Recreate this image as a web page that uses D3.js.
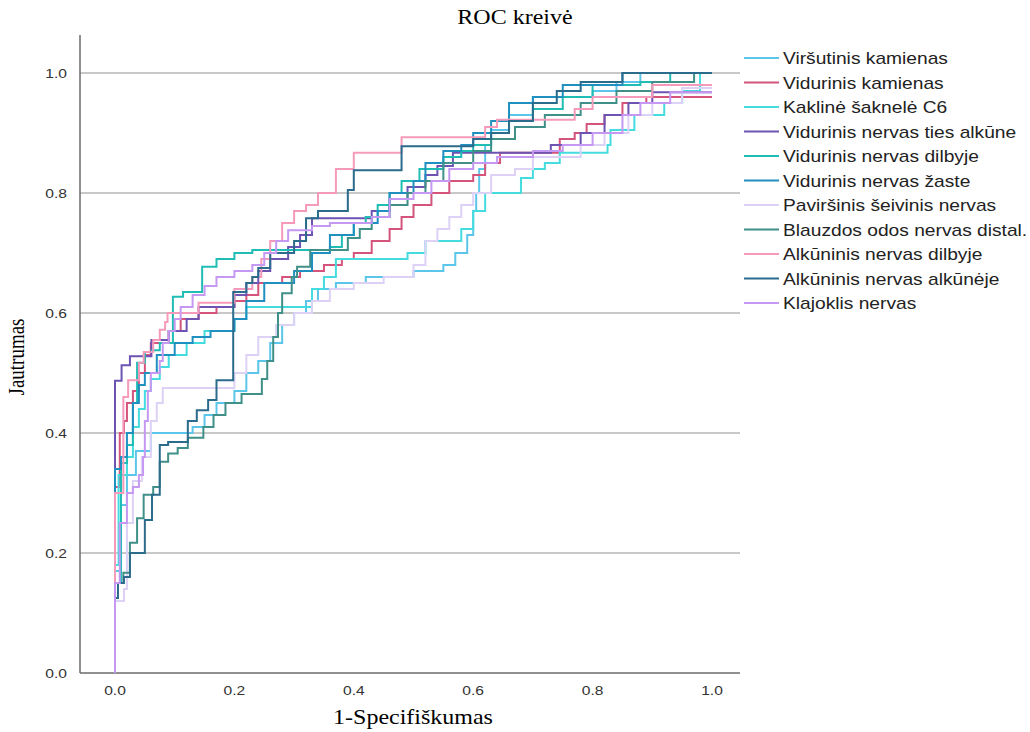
<!DOCTYPE html>
<html>
<head>
<meta charset="utf-8">
<script src="https://cdn.jsdelivr.net/npm/d3@7"></script>
<style>
  html, body { margin: 0; padding: 0; background: #fff; }
  svg { display: block; }
</style>
</head>
<body>
<svg id="chart" width="1030" height="732"></svg>
<script>
// ROC curves: each series is a staircase of [1-specificity, sensitivity] corner points
const seriesNames = [
  "Viršutinis kamienas",
  "Vidurinis kamienas",
  "Kaklinė šaknelė C6",
  "Vidurinis nervas ties alkūne",
  "Vidurinis nervas dilbyje",
  "Vidurinis nervas žaste",
  "Paviršinis šeivinis nervas",
  "Blauzdos odos nervas distal.",
  "Alkūninis nervas dilbyje",
  "Alkūninis nervas alkūnėje",
  "Klajoklis nervas"
];

const seriesColors = [
  "#5cc6ea", "#d4547c", "#45dcdf", "#6d53b2", "#1fbdb4", "#2090c0",
  "#ddd2f6", "#3f9088", "#f59aba", "#2b6b8c", "#c598f2"
];

const virsutinis = [[0,0],[0,0.17],[0.01,0.28],[0.02,0.33],[0.035,0.37],[0.06,0.40],[0.13,0.41],[0.15,0.43],[0.17,0.45],[0.2,0.47],[0.22,0.5],[0.24,0.52],[0.26,0.55],[0.28,0.58],[0.3,0.6],[0.32,0.62],[0.34,0.64],[0.37,0.65],[0.42,0.66],[0.5,0.67],[0.55,0.68],[0.57,0.7],[0.59,0.73],[0.6,0.77],[0.605,0.8],[0.61,0.84],[0.62,0.88],[0.63,0.905],[0.66,0.93],[0.7,0.96],[0.8,0.97],[0.84,0.985],[0.88,1.0],[1,1]];

const vidKamienas = [[0,0],[0,0.31],[0.008,0.40],[0.015,0.42],[0.02,0.45],[0.03,0.47],[0.04,0.5],[0.05,0.53],[0.06,0.55],[0.09,0.57],[0.11,0.59],[0.14,0.6],[0.17,0.61],[0.2,0.62],[0.22,0.63],[0.24,0.65],[0.28,0.66],[0.31,0.67],[0.35,0.68],[0.38,0.69],[0.4,0.7],[0.43,0.72],[0.46,0.74],[0.48,0.76],[0.5,0.78],[0.53,0.8],[0.56,0.82],[0.6,0.83],[0.62,0.85],[0.645,0.867],[0.745,0.89],[0.77,0.9],[0.79,0.915],[0.82,0.93],[0.85,0.95],[0.89,0.96],[1,0.96]];

const kaklineC6 = [[0,0],[0,0.18],[0.006,0.33],[0.02,0.36],[0.03,0.41],[0.04,0.44],[0.05,0.47],[0.06,0.49],[0.075,0.51],[0.09,0.53],[0.12,0.55],[0.15,0.57],[0.2,0.59],[0.22,0.61],[0.33,0.64],[0.35,0.66],[0.37,0.69],[0.49,0.70],[0.52,0.72],[0.58,0.74],[0.6,0.77],[0.62,0.80],[0.68,0.825],[0.7,0.84],[0.72,0.85],[0.745,0.867],[0.825,0.88],[0.83,0.905],[0.87,0.93],[0.92,0.95],[0.95,0.97],[0.98,1.0],[1,1]];

const tiesAlkune = [[0,0],[0,0.487],[0.011,0.513],[0.025,0.528],[0.061,0.555],[0.09,0.57],[0.12,0.59],[0.14,0.61],[0.2,0.63],[0.22,0.65],[0.24,0.67],[0.26,0.69],[0.29,0.71],[0.31,0.73],[0.33,0.758],[0.43,0.77],[0.46,0.79],[0.49,0.81],[0.52,0.83],[0.54,0.845],[0.566,0.867],[0.73,0.88],[0.78,0.9],[0.82,0.93],[0.86,0.95],[0.9,0.968],[1,0.968]];

const vidDilbyje = [[0,0],[0,0.15],[0.01,0.35],[0.02,0.38],[0.03,0.45],[0.037,0.517],[0.05,0.535],[0.062,0.538],[0.075,0.55],[0.097,0.627],[0.114,0.635],[0.146,0.677],[0.17,0.69],[0.2,0.70],[0.23,0.705],[0.36,0.71],[0.38,0.73],[0.4,0.75],[0.42,0.76],[0.44,0.78],[0.46,0.8],[0.48,0.82],[0.51,0.84],[0.55,0.86],[0.58,0.87],[0.6,0.88],[0.63,0.9],[0.66,0.92],[0.7,0.94],[0.75,0.96],[0.8,0.98],[0.88,0.985],[0.93,1.0],[1,1]];

const vidZaste = [[0,0],[0,0.34],[0.01,0.36],[0.02,0.40],[0.03,0.45],[0.04,0.48],[0.05,0.5],[0.07,0.53],[0.1,0.55],[0.13,0.56],[0.16,0.57],[0.2,0.59],[0.22,0.62],[0.25,0.65],[0.3,0.67],[0.33,0.7],[0.36,0.73],[0.4,0.75],[0.44,0.77],[0.46,0.8],[0.5,0.82],[0.52,0.85],[0.55,0.87],[0.58,0.88],[0.6,0.9],[0.63,0.92],[0.66,0.95],[0.7,0.96],[0.75,0.98],[0.85,1.0],[1,1]];

const pavirsinis = [[0,0],[0,0.12],[0.015,0.14],[0.02,0.25],[0.03,0.32],[0.045,0.36],[0.06,0.42],[0.07,0.45],[0.08,0.475],[0.2,0.5],[0.22,0.53],[0.24,0.56],[0.27,0.58],[0.3,0.6],[0.33,0.62],[0.36,0.64],[0.4,0.65],[0.45,0.66],[0.5,0.68],[0.52,0.72],[0.54,0.74],[0.56,0.76],[0.58,0.78],[0.6,0.8],[0.63,0.83],[0.67,0.84],[0.7,0.86],[0.78,0.88],[0.82,0.9],[0.86,0.93],[0.9,0.95],[0.95,0.975],[1,0.975]];

const blauzdos = [[0,0],[0,0.15],[0.014,0.167],[0.025,0.217],[0.037,0.258],[0.048,0.297],[0.064,0.31],[0.075,0.352],[0.089,0.366],[0.105,0.375],[0.122,0.392],[0.148,0.41],[0.165,0.43],[0.185,0.45],[0.212,0.465],[0.246,0.49],[0.255,0.52],[0.265,0.56],[0.273,0.6],[0.28,0.633],[0.296,0.66],[0.305,0.677],[0.327,0.705],[0.39,0.725],[0.41,0.74],[0.43,0.76],[0.46,0.78],[0.49,0.8],[0.52,0.82],[0.55,0.85],[0.6,0.87],[0.63,0.89],[0.67,0.91],[0.72,0.93],[0.78,0.95],[0.84,0.97],[0.9,0.985],[0.97,1.0],[1,1]];

const alkDilbyje = [[0,0],[0,0.3],[0.014,0.46],[0.022,0.488],[0.04,0.517],[0.048,0.535],[0.064,0.555],[0.075,0.572],[0.084,0.585],[0.088,0.6],[0.14,0.617],[0.2,0.64],[0.23,0.66],[0.245,0.69],[0.26,0.72],[0.28,0.75],[0.3,0.77],[0.32,0.78],[0.34,0.8],[0.37,0.84],[0.4,0.867],[0.48,0.893],[0.62,0.91],[0.64,0.922],[0.77,0.94],[0.8,0.96],[0.9,0.98],[1,0.98]];

const alkAlkuneje = [[0,0],[0,0.125],[0.005,0.15],[0.015,0.16],[0.025,0.2],[0.05,0.255],[0.062,0.297],[0.075,0.38],[0.089,0.385],[0.122,0.42],[0.137,0.438],[0.156,0.455],[0.17,0.488],[0.198,0.635],[0.22,0.65],[0.23,0.66],[0.24,0.675],[0.26,0.7],[0.3,0.72],[0.32,0.758],[0.34,0.77],[0.39,0.805],[0.4,0.838],[0.48,0.878],[0.6,0.89],[0.63,0.9],[0.66,0.92],[0.7,0.95],[0.74,0.97],[0.78,0.985],[0.85,1.0],[1,1]];

const klajoklis = [[0,0],[0,0.15],[0.008,0.25],[0.02,0.3],[0.03,0.31],[0.04,0.33],[0.047,0.36],[0.05,0.42],[0.055,0.47],[0.06,0.5],[0.075,0.52],[0.08,0.55],[0.09,0.57],[0.1,0.59],[0.11,0.61],[0.13,0.63],[0.15,0.645],[0.17,0.66],[0.2,0.67],[0.23,0.68],[0.25,0.7],[0.27,0.72],[0.29,0.738],[0.33,0.745],[0.36,0.75],[0.43,0.76],[0.46,0.79],[0.5,0.8],[0.53,0.82],[0.56,0.84],[0.6,0.85],[0.64,0.86],[0.7,0.87],[0.75,0.88],[0.8,0.9],[0.85,0.93],[0.88,0.95],[0.93,0.968],[1,0.968]];

const seriesData = [virsutinis, vidKamienas, kaklineC6, tiesAlkune, vidDilbyje, vidZaste,
                    pavirsinis, blauzdos, alkDilbyje, alkAlkuneje, klajoklis];

const tickValues = [0, 0.2, 0.4, 0.6, 0.8, 1.0];

const svg = d3.select("#chart");

// text in this chart is set slightly wide
const stretch = 1.2;

// frame of the plot
const frame = { left: 80, right: 740, top: 35, bottom: 673 };
const x = d3.scaleLinear().domain([0, 1]).range([115, 712]);
const y = d3.scaleLinear().domain([0, 1]).range([673, 73]);

// horizontal grid lines
svg.append("g")
  .selectAll("line")
  .data(tickValues.filter(v => v > 0))
  .join("line")
  .attr("x1", frame.left).attr("x2", frame.right)
  .attr("y1", d => y(d)).attr("y2", d => y(d))
  .attr("stroke", "#c8c8c8").attr("stroke-width", 2);

// y axis labels
const fmt = d3.format(".1f");
svg.append("g")
  .selectAll("g")
  .data(tickValues)
  .join("g")
  .attr("transform", d => `translate(67,${y(d) + 4.5}) scale(${stretch},1)`)
  .append("text")
  .attr("text-anchor", "end")
  .attr("font-family", "Liberation Sans, Arial, sans-serif")
  .attr("font-size", 13).attr("fill", "#333")
  .text(fmt);

// x axis labels
svg.append("g")
  .selectAll("g")
  .data(tickValues)
  .join("g")
  .attr("transform", d => `translate(${x(d)},${frame.bottom + 22}) scale(${stretch},1)`)
  .append("text")
  .attr("text-anchor", "middle")
  .attr("font-family", "Liberation Sans, Arial, sans-serif")
  .attr("font-size", 13).attr("fill", "#333")
  .text(fmt);

// axis lines
svg.append("line")
  .attr("x1", frame.left).attr("x2", frame.left)
  .attr("y1", frame.top).attr("y2", frame.bottom)
  .attr("stroke", "#6b6b6b").attr("stroke-width", 1.5);
svg.append("line")
  .attr("x1", frame.left).attr("x2", frame.right)
  .attr("y1", frame.bottom).attr("y2", frame.bottom)
  .attr("stroke", "#6b6b6b").attr("stroke-width", 1.5);

// ROC staircase lines
const line = d3.line()
  .x(d => x(d[0]))
  .y(d => y(d[1]))
  .curve(d3.curveStepAfter);

svg.append("g")
  .selectAll("path")
  .data(seriesData)
  .join("path")
  .attr("d", line)
  .attr("fill", "none")
  .attr("stroke", (d, i) => seriesColors[i])
  .attr("stroke-width", 2)
  .attr("stroke-linejoin", "miter");

// title and axis titles
const serif = "Liberation Serif, Times New Roman, serif";
svg.append("g").attr("transform", `translate(515,24) scale(${stretch},1)`)
  .append("text")
  .attr("text-anchor", "middle")
  .attr("font-family", serif)
  .attr("font-size", 20).attr("fill", "#000")
  .text("ROC kreivė");

svg.append("g").attr("transform", `translate(413,724) scale(${stretch},1)`)
  .append("text")
  .attr("text-anchor", "middle")
  .attr("font-family", serif)
  .attr("font-size", 20).attr("fill", "#000")
  .text("1-Specifiškumas");

svg.append("g").attr("transform", "translate(24,357) scale(1.2,1) rotate(-90)")
  .append("text")
  .attr("text-anchor", "middle")
  .attr("font-family", serif)
  .attr("font-size", 19).attr("fill", "#000")
  .text("Jautrumas");

// legend
const legend = svg.append("g").attr("transform", "translate(744,58)");
const rows = legend.selectAll("g")
  .data(seriesNames)
  .join("g")
  .attr("transform", (d, i) => `translate(0,${i * 24.5})`);
rows.append("line")
  .attr("x1", 0).attr("x2", 35).attr("y1", 0).attr("y2", 0)
  .attr("stroke", (d, i) => seriesColors[i]).attr("stroke-width", 2);
rows.append("g")
  .attr("transform", `translate(39,6) scale(${stretch},1)`)
  .append("text")
  .attr("font-family", "Liberation Sans, Arial, sans-serif")
  .attr("font-size", 16).attr("fill", "#222")
  .text(d => d);
</script>
</body>
</html>
